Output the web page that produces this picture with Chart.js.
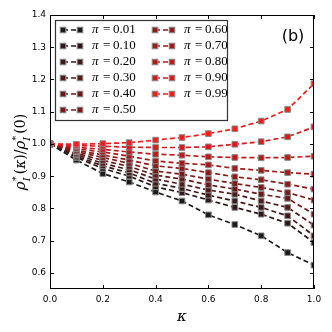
<!DOCTYPE html>
<html>
<head>
<meta charset="utf-8">
<script src="https://cdn.jsdelivr.net/npm/chart.js@4/dist/chart.umd.min.js"></script>
<style>
  html, body { margin: 0; padding: 0; background: #fff; }
  #wrap { width: 332px; height: 332px; }
</style>
</head>
<body>
<div id="wrap"><canvas id="chart" width="332" height="332"></canvas></div>
<script>
// valores de kappa (eixo x)
const kappa = [0.0, 0.1, 0.2, 0.3, 0.4, 0.5, 0.6, 0.7, 0.8, 0.9, 1.0];

// rotulos da legenda
const piLabels = ['0.01', '0.10', '0.20', '0.30', '0.40', '0.50', '0.60', '0.70', '0.80', '0.90', '0.99'];

// rho*_I(kappa) / rho*_I(0) para cada pi
const rho001 = [1.0, 0.950, 0.908, 0.882, 0.851, 0.823, 0.780, 0.750, 0.715, 0.663, 0.624];
const rho010 = [1.0, 0.958, 0.924, 0.900, 0.867, 0.849, 0.826, 0.803, 0.782, 0.754, 0.694];
const rho020 = [1.0, 0.962, 0.932, 0.910, 0.878, 0.862, 0.841, 0.823, 0.803, 0.777, 0.715];
const rho030 = [1.0, 0.967, 0.940, 0.920, 0.891, 0.875, 0.857, 0.844, 0.823, 0.803, 0.748];
const rho040 = [1.0, 0.971, 0.949, 0.930, 0.903, 0.891, 0.873, 0.860, 0.844, 0.831, 0.782];
const rho050 = [1.0, 0.976, 0.958, 0.940, 0.916, 0.906, 0.891, 0.877, 0.865, 0.849, 0.826];
const rho060 = [1.0, 0.980, 0.966, 0.950, 0.932, 0.924, 0.911, 0.898, 0.889, 0.875, 0.860];
const rho070 = [1.0, 0.985, 0.975, 0.962, 0.947, 0.940, 0.935, 0.924, 0.918, 0.911, 0.906];
const rho080 = [1.0, 0.990, 0.983, 0.975, 0.968, 0.965, 0.960, 0.958, 0.957, 0.958, 0.962];
const rho090 = [1.0, 0.995, 0.993, 0.990, 0.989, 0.989, 0.991, 0.999, 1.007, 1.022, 1.053];
const rho099 = [1.0, 0.999, 1.001, 1.004, 1.012, 1.020, 1.032, 1.047, 1.071, 1.107, 1.187];

const allSeries = [rho001, rho010, rho020, rho030, rho040, rho050, rho060, rho070, rho080, rho090, rho099];

// cores: do preto ao vermelho
const colors = ['#1c1a1a', '#2c1818', '#3e1919', '#521a1a', '#661a1a', '#7a1a1a',
                '#8f1a1a', '#a51a1a', '#bd1a1a', '#d81a1a', '#f51c1c'];

const xTicks = [0.0, 0.2, 0.4, 0.6, 0.8, 1.0];
const yTicks = [0.6, 0.7, 0.8, 0.9, 1.0, 1.1, 1.2, 1.3, 1.4];

const datasets = allSeries.map((vals, i) => ({
    label: piLabels[i],
    data: vals.map((v, j) => ({ x: kappa[j], y: v })),
    borderColor: colors[i],
    backgroundColor: colors[i],
    borderWidth: 1.7,
    borderDash: [5, 3],
    pointStyle: 'rect',
    pointRadius: 4,
    pointBorderWidth: 1,
    pointBorderColor: '#8a8a8a',
    pointBackgroundColor: colors[i],
    tension: 0,
    order: allSeries.length - i // 0.99 desenhado por cima
}));

// molduras, ticks internos, legenda e rotulos dos eixos
const framePlugin = {
    id: 'frame',
    afterDraw(chart) {
        const ctx = chart.ctx;
        const a = chart.chartArea;
        const xs = chart.scales.x, ys = chart.scales.y;
        ctx.save();
        ctx.strokeStyle = '#000';
        ctx.lineWidth = 1;
        ctx.strokeRect(a.left + 0.5, a.top + 0.5, a.right - a.left - 1, a.bottom - a.top - 1);

        // ticks para dentro em todos os lados
        ctx.beginPath();
        xTicks.forEach(t => {
            const px = Math.round(xs.getPixelForValue(t)) + 0.5;
            ctx.moveTo(px, a.bottom); ctx.lineTo(px, a.bottom - 4);
            ctx.moveTo(px, a.top); ctx.lineTo(px, a.top + 4);
        });
        yTicks.forEach(t => {
            const py = Math.round(ys.getPixelForValue(t)) + 0.5;
            ctx.moveTo(a.left, py); ctx.lineTo(a.left + 4, py);
            ctx.moveTo(a.right, py); ctx.lineTo(a.right - 4, py);
        });
        ctx.stroke();

        // legenda em duas colunas
        const lx = a.left + 5, ly = a.top + 5, lw = 172, lh = 100;
        ctx.fillStyle = '#fff';
        ctx.fillRect(lx, ly, lw, lh);
        ctx.strokeStyle = '#333';
        ctx.lineWidth = 1.2;
        ctx.strokeRect(lx + 0.5, ly + 0.5, lw, lh);

        chart.data.datasets.forEach((ds, i) => {
            const col = i < 6 ? 0 : 1;
            const row = i < 6 ? i : i - 6;
            const mx = lx + 8 + col * 92;
            const my = ly + 10 + row * 16;
            ctx.strokeStyle = ds.borderColor;
            ctx.lineWidth = 1.7;
            ctx.setLineDash([5, 3]);
            ctx.beginPath();
            ctx.moveTo(mx, my); ctx.lineTo(mx + 17, my);
            ctx.stroke();
            ctx.setLineDash([]);
            [mx, mx + 17].forEach(px => {
                ctx.fillStyle = ds.borderColor;
                ctx.fillRect(px - 2.8, my - 2.8, 5.6, 5.6);
                ctx.strokeStyle = '#8a8a8a';
                ctx.lineWidth = 1;
                ctx.strokeRect(px - 2.8, my - 2.8, 5.6, 5.6);
            });
            ctx.fillStyle = '#000';
            ctx.textBaseline = 'middle';
            ctx.textAlign = 'left';
            ctx.font = 'italic 13px "Liberation Serif"';
            ctx.fillText('\u03c0', mx + 29, my);
            ctx.font = '13px "Liberation Serif"';
            ctx.fillText('=', mx + 40, my);
            ctx.fillText(ds.label, mx + 50, my);
        });

        // (b)
        ctx.fillStyle = '#000';
        ctx.font = '16px "DejaVu Sans"';
        ctx.textAlign = 'center';
        ctx.textBaseline = 'alphabetic';
        ctx.fillText('(b)', 293, 41);

        // rotulo x
        ctx.font = 'italic 15px "DejaVu Serif"';
        ctx.fillText('\u03ba', (a.left + a.right) / 2, 321);

        // rotulo y: rho*_I(kappa)/rho*_I(0)
        const parts = [
            { t: '\u03c1', f: 'italic 15px "DejaVu Serif"' },
            { sup: '*', sub: 'I' },
            { t: '(', f: '14px "DejaVu Serif"' },
            { t: '\u03ba', f: 'italic 14px "DejaVu Serif"' },
            { t: ')/', f: '14px "DejaVu Serif"' },
            { t: '\u03c1', f: 'italic 15px "DejaVu Serif"' },
            { sup: '*', sub: 'I' },
            { t: '(0)', f: '14px "DejaVu Serif"' }
        ];
        const supFont = '10px "DejaVu Serif"', subFont = 'italic 10px "DejaVu Serif"';
        let total = 0;
        parts.forEach(p => {
            if (p.t) { ctx.font = p.f; p.w = ctx.measureText(p.t).width; }
            else { ctx.font = supFont; p.w = ctx.measureText(p.sup).width + 2; }
            total += p.w;
        });
        ctx.translate(21, (a.top + a.bottom) / 2);
        ctx.rotate(-Math.PI / 2);
        ctx.textAlign = 'left';
        let cx = -total / 2;
        parts.forEach(p => {
            if (p.t) {
                ctx.font = p.f;
                ctx.fillText(p.t, cx, 4);
            } else {
                ctx.font = supFont;
                ctx.fillText(p.sup, cx, -2);
                ctx.font = subFont;
                ctx.fillText(p.sub, cx, 9);
            }
            cx += p.w;
        });
        ctx.restore();
    }
};

const chart = new Chart(document.getElementById('chart').getContext('2d'), {
    type: 'line',
    data: { datasets: datasets },
    plugins: [framePlugin],
    options: {
        responsive: false,
        animation: false,
        layout: { padding: { top: 15, right: 18, left: 0, bottom: 0 } },
        plugins: {
            legend: { display: false },
            tooltip: { enabled: false }
        },
        scales: {
            x: {
                type: 'linear',
                min: 0, max: 1,
                border: { display: false },
                grid: { display: false, drawTicks: false },
                afterBuildTicks: s => { s.ticks = xTicks.map(v => ({ value: v })); },
                afterFit: s => { s.height = 43; },
                ticks: {
                    color: '#000',
                    padding: 5,
                    font: { family: 'DejaVu Sans', size: 9 },
                    callback: v => Number(v).toFixed(1)
                }
            },
            y: {
                min: 0.55, max: 1.4,
                border: { display: false },
                grid: { display: false, drawTicks: false },
                afterBuildTicks: s => { s.ticks = yTicks.map(v => ({ value: v })); },
                afterFit: s => { s.width = 50; },
                ticks: {
                    color: '#000',
                    padding: 4,
                    font: { family: 'DejaVu Sans', size: 9 },
                    callback: v => Number(v).toFixed(1)
                }
            }
        }
    }
});
</script>
</body>
</html>
